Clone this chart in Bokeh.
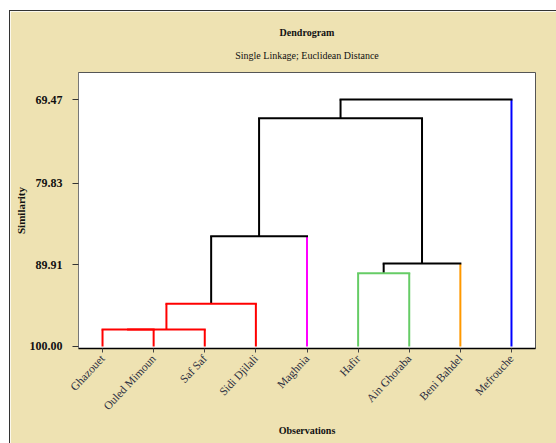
from bokeh.plotting import figure
from bokeh.models import Range1d, FixedTicker, Title, ColumnDataSource
from bokeh.embed import file_html
from bokeh.resources import INLINE

# Observations (leaf order as drawn)
leaves = ["Ghazouet", "Ouled Mimoun", "Saf Saf", "Sidi Djilali", "Maghnia",
          "Hafir", "Ain Ghoraba", "Beni Bahdel", "Mefrouche"]

# Linkage steps: ids 0..8 are leaves, each merge creates id 9, 10, ...
merge_left = [0, 9, 10, 11, 5, 13, 12, 15]
merge_right = [1, 2, 3, 4, 6, 7, 14, 8]
merge_similarity = [97.90, 97.90, 94.72, 86.37, 90.94, 89.74, 71.78, 69.47]

# Similarity tick values
y_ticks = [69.47, 79.83, 89.91, 100.00]
y_tick_labels = ["69.47", "79.83", "89.91", "100.00"]

# Cluster colours
leaf_colors = ["#FF0000", "#FF0000", "#FF0000", "#FF0000", "#FF00FF",
               "#66CC66", "#66CC66", "#FF9900", "#0000FF"]
merge_colors = ["#FF0000", "#FF0000", "#FF0000", "black",
                "#66CC66", "black", "black", "black"]

LEAF_LEVEL = 100.0
n = len(leaves)

# node positions: x = mean of children, y = merge similarity
node_x = {i: float(i + 1) for i in range(n)}
node_y = {i: LEAF_LEVEL for i in range(n)}

hx0, hx1, hy, hc = [], [], [], []
vx, vy0, vy1, vc = [], [], [], []
for k, (a, b, s) in enumerate(zip(merge_left, merge_right, merge_similarity)):
    nid = n + k
    node_x[nid] = (node_x[a] + node_x[b]) / 2
    node_y[nid] = s
    hx0.append(node_x[a]); hx1.append(node_x[b]); hy.append(s); hc.append(merge_colors[k])
    for child in (a, b):
        vx.append(node_x[child]); vy0.append(node_y[child]); vy1.append(s)
        vc.append(leaf_colors[child] if child < n else merge_colors[k])

TAN = "#EEE2B2"
SERIF = "Liberation Serif"

p = figure(width=547, height=433, output_backend="svg", toolbar_location=None,
           x_range=Range1d(0.53, 9.47), y_range=Range1d(100.25, 66.13),
           min_border_left=68, min_border_right=22, min_border_top=61,
           min_border_bottom=96)
p.margin = (10, 0, 0, 9)
p.styles = {"border-top": "1px solid #333", "border-left": "1px solid #333"}

p.background_fill_color = "white"
p.border_fill_color = TAN
p.outline_line_color = "#555555"
p.outline_line_width = 1
p.grid.visible = False

sub = Title(text="Single Linkage; Euclidean Distance", align="center",
            text_font=SERIF, text_font_size="10px", text_font_style="normal",
            text_color="#111111", offset=-21, standoff=24)
main = Title(text="Dendrogram", align="center", text_font=SERIF,
             text_font_size="10px", text_font_style="bold",
             text_color="#111111", offset=-21, standoff=-5)
p.add_layout(sub, "above")
p.add_layout(main, "above")

vsrc = ColumnDataSource(dict(x=vx, y0=vy0, y1=vy1, c=vc))
hsrc = ColumnDataSource(dict(x0=hx0, x1=hx1, y=hy, c=hc))
p.segment(x0="x", y0="y0", x1="x", y1="y1", color="c", line_width=2, source=vsrc)
p.segment(x0="x0", y0="y", x1="x1", y1="y", color="c", line_width=2,
          line_cap="square", source=hsrc)

# x axis: observations
p.xaxis.ticker = FixedTicker(ticks=list(range(1, n + 1)))
p.xaxis.major_label_overrides = {i + 1: name for i, name in enumerate(leaves)}
p.xaxis.major_label_orientation = 0.82
p.xaxis.major_label_text_font = SERIF
p.xaxis.major_label_text_font_size = "11.5px"
p.xaxis.major_label_text_color = "#2a2d40"
p.xaxis.major_label_standoff = 4
p.xaxis.major_tick_in = 0
p.xaxis.major_tick_out = 4
p.xaxis.major_tick_line_color = "#444444"
p.xaxis.minor_tick_line_color = None
p.xaxis.axis_line_color = "black"
p.xaxis.axis_line_width = 1.5
p.xaxis.axis_label = "Observations"
p.xaxis.axis_label_text_font = SERIF
p.xaxis.axis_label_text_font_size = "10px"
p.xaxis.axis_label_text_font_style = "bold"
p.xaxis.axis_label_text_color = "#111111"
p.xaxis.axis_label_standoff = 6

# y axis: similarity
p.yaxis.ticker = FixedTicker(ticks=y_ticks)
p.yaxis.major_label_overrides = {v: t for v, t in zip(y_ticks, y_tick_labels)}
p.yaxis.major_label_text_font = SERIF
p.yaxis.major_label_text_font_size = "12px"
p.yaxis.major_label_text_font_style = "bold"
p.yaxis.major_label_text_color = "#111111"
p.yaxis.major_label_standoff = 10
p.yaxis.major_tick_in = 0
p.yaxis.major_tick_out = 6
p.yaxis.major_tick_line_color = "#333333"
p.yaxis.minor_tick_line_color = None
p.yaxis.axis_line_color = "#777777"
p.yaxis.axis_label = "Similarity"
p.yaxis.axis_label_text_font = SERIF
p.yaxis.axis_label_text_font_size = "11px"
p.yaxis.axis_label_text_font_style = "bold"
p.yaxis.axis_label_text_color = "#111111"
p.yaxis.axis_label_standoff = 0

open("out.html", "w").write(file_html(p, INLINE))
